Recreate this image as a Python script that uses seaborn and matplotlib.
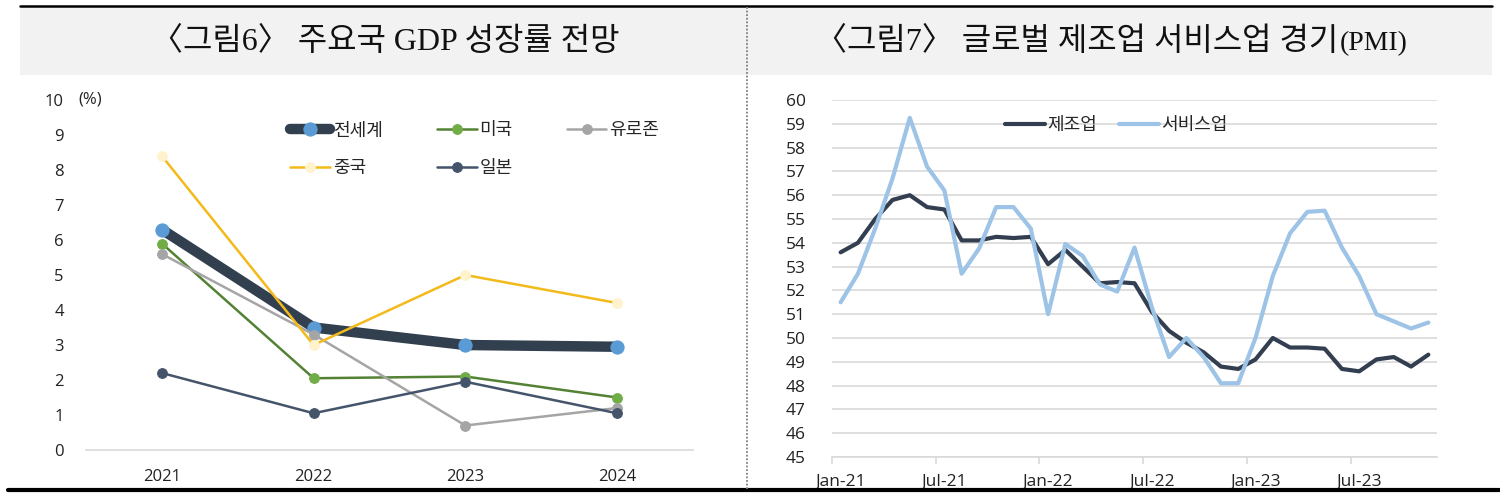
import numpy as np
import pandas as pd
import matplotlib.pyplot as plt
from matplotlib.patches import Rectangle
from matplotlib.lines import Line2D
import seaborn as sns

# ---- data: GDP growth outlook (%)
years = ['2021', '2022', '2023', '2024']
world = [6.3, 3.5, 3.0, 2.95]
usa = [5.9, 2.05, 2.1, 1.5]
euro = [5.6, 3.3, 0.7, 1.2]
china = [8.4, 3.0, 5.0, 4.2]
japan = [2.2, 1.05, 1.95, 1.05]

# ---- data: global PMI, Jan-21 .. Nov-23
months = pd.date_range('2021-01-01', periods=35, freq='MS')
month_labels = [m.strftime('%b-%y') for m in months]
manuf = [53.6, 54.0, 55.0, 55.8, 56.0, 55.5, 55.4, 54.1, 54.1, 54.25, 54.2, 54.25,
         53.1, 53.7, 53.0, 52.3, 52.35, 52.3, 51.1, 50.3, 49.8, 49.4, 48.8, 48.7,
         49.1, 50.0, 49.6, 49.6, 49.55, 48.7, 48.6, 49.1, 49.2, 48.8, 49.3]
services = [51.5, 52.7, 54.6, 56.7, 59.25, 57.2, 56.2, 52.7, 53.75, 55.5, 55.5, 54.6,
            51.0, 53.95, 53.45, 52.25, 51.95, 53.8, 51.3, 49.2, 50.0, 49.2, 48.1, 48.1,
            50.0, 52.6, 54.4, 55.3, 55.35, 53.8, 52.6, 51.0, 50.7, 50.4, 50.65]

sns.set_theme(style='white')
plt.rcParams['font.family'] = ['Open Sans', 'Noto Sans CJK KR', 'DejaVu Sans']
kr = ['Noto Sans CJK KR', 'DejaVu Sans']

fig = plt.figure(figsize=(15, 5.01), dpi=100)
H = 501.0

# ---- page decoration
fig.add_artist(Rectangle((20 / 1500, (H - 75) / H), 1472 / 1500, 68 / H,
                         transform=fig.transFigure, facecolor='#F2F2F2', edgecolor='none', zorder=0))
fig.add_artist(Line2D([20 / 1500, 1492 / 1500], [(H - 6) / H] * 2, color='black', lw=1.8))
fig.add_artist(Line2D([8 / 1500, 1.0], [(H - 490) / H] * 2, color='black', lw=3))
fig.add_artist(Line2D([747 / 1500] * 2, [(H - 7) / H, (H - 489) / H], color='#808080',
                      lw=1.3, ls=(0, (1, 1))))

title_fam = ['Liberation Serif', 'Noto Sans CJK KR']
fig.text(385 / 1500, (H - 42) / H, '〈그림6〉 주요국 GDP 성장률 전망', ha='center', va='center',
         fontsize=23, family=title_fam, color='#111111')
fig.text(1338 / 1500, (H - 42) / H, '〈그림7〉 글로벌 제조업 서비스업 경기', ha='right', va='center',
         fontsize=23, family=title_fam, color='#111111')
fig.text(1340 / 1500, (H - 44) / H, '(PMI)', ha='left', va='center',
         fontsize=20, family=['Liberation Serif'], color='#111111')

# ---- left: GDP growth
ax1 = fig.add_axes([86 / 1500, (H - 450) / H, 607 / 1500, 350 / H])
xpos = np.arange(len(years))
gdp_series = [
    ('전세계', world, '#323F4F', '#5B9BD5', 7.5, 9.5),
    ('미국', usa, '#548235', '#70AD47', 1.8, 7),
    ('유로존', euro, '#A5A5A5', '#A5A5A5', 1.8, 7),
    ('중국', china, '#F2BA1A', '#FFF2CC', 1.8, 7),
    ('일본', japan, '#44546A', '#44546A', 1.8, 7),
]
for name, vals, lc, mc, lw, ms in gdp_series:
    sns.lineplot(x=xpos, y=vals, ax=ax1, color=lc, lw=lw, marker='o', markersize=ms,
                 markerfacecolor=mc, markeredgecolor=mc, label=name)

ax1.set_xlim(-0.5, len(years) - 0.5)
ax1.set_ylim(0, 10)
ax1.set_xticks(xpos)
ax1.set_xticklabels(years)
ax1.set_yticks(range(0, 11))
for s in ['top', 'right', 'left']:
    ax1.spines[s].set_visible(False)
ax1.spines['bottom'].set_color('#D9D9D9')
ax1.spines['bottom'].set_linewidth(1.2)
ax1.tick_params(axis='x', length=0, pad=14, labelsize=12, labelcolor='#222222')
ax1.tick_params(axis='y', length=0, pad=16, labelsize=12, labelcolor='#222222')
ax1.text(-0.012, 10, '(%)', transform=ax1.get_yaxis_transform(), ha='left', va='center',
         fontsize=12, color='#222222')

h, l = ax1.get_legend_handles_labels()
order = [0, 3, 1, 4, 2]
ax1.legend([h[i] for i in order], [l[i] for i in order], ncol=3, loc='upper left',
           bbox_to_anchor=(0.31, 0.985), frameon=False, handlelength=2.2, handletextpad=0.15,
           columnspacing=3.0, labelspacing=1.1, prop={'family': kr, 'size': 13})

# ---- right: PMI
ax2 = fig.add_axes([832 / 1500, (H - 457) / H, 605 / 1500, 357 / H])
mpos = np.arange(len(months))
sns.lineplot(x=mpos, y=manuf, ax=ax2, color='#333F50', lw=3, label='제조업')
sns.lineplot(x=mpos, y=services, ax=ax2, color='#9DC3E6', lw=3, label='서비스업')
ax2.set_xlim(-0.5, len(months) - 0.5)
ax2.set_ylim(45, 60)
ax2.set_yticks(range(45, 61))
ax2.yaxis.grid(True, color='#D9D9D9', lw=1.2)
ax2.set_xticks(np.arange(-0.5, len(months), 6))
ax2.set_xticklabels([])
ax2.set_xticks(mpos[::6], minor=True)
ax2.set_xticklabels(month_labels[::6], minor=True)
for s in ['top', 'right', 'left']:
    ax2.spines[s].set_visible(False)
ax2.spines['bottom'].set_color('#D9D9D9')
ax2.spines['bottom'].set_linewidth(1.2)
ax2.tick_params(axis='x', which='major', length=5, width=1.2, color='#D9D9D9', direction='out',
                bottom=True)
ax2.tick_params(axis='x', which='minor', length=0, pad=12, labelsize=12.5, labelcolor='#222222')
ax2.tick_params(axis='y', length=0, pad=19, labelsize=12.5, labelcolor='#222222')
ax2.legend(ncol=2, loc='upper center', bbox_to_anchor=(0.47, 1.0), frameon=False,
           handlelength=2.2, handletextpad=0.15, columnspacing=1.2,
           prop={'family': kr, 'size': 13})

fig.savefig('out.png', dpi=100)
